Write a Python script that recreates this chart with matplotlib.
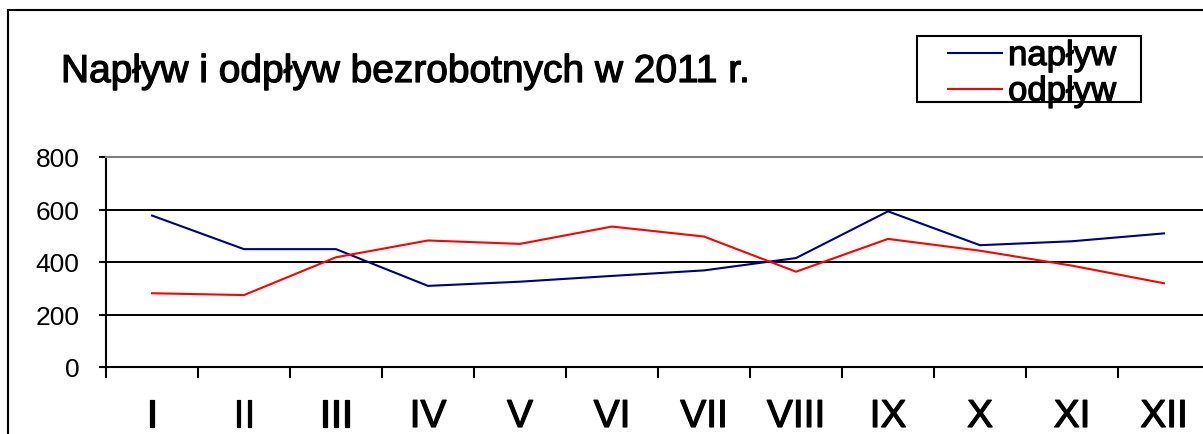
import matplotlib
matplotlib.use("Agg")
import matplotlib.pyplot as plt
import matplotlib.patheffects as pe
from matplotlib.patches import Rectangle
import numpy as np

plt.rcParams['font.family'] = ['Liberation Sans', 'DejaVu Sans']

# data
months = ["I", "II", "III", "IV", "V", "VI", "VII", "VIII", "IX", "X", "XI", "XII"]
naplyw = [577, 449, 449, 309, 325, 347, 368, 415, 593, 464, 479, 509]
odplyw = [281, 274, 418, 482, 469, 535, 497, 363, 488, 443, 386, 319]
y_ticks = [0, 200, 400, 600, 800]
title = "Napływ i odpływ bezrobotnych w 2011 r."

W, H = 1203, 435
fig = plt.figure(figsize=(W / 100, H / 100), dpi=100)
heavy = [pe.withStroke(linewidth=0.9, foreground="black")]

# outer chart border (only left/top visible, the rest is cropped)
fig.patches.append(Rectangle((8 / W, -0.1), 1.2, 1 - 11 / H + 0.1,
                             transform=fig.transFigure, fill=False,
                             edgecolor="black", linewidth=1.5))

ax = fig.add_axes([106 / W, (H - 368) / H, 1104 / W, 210 / H])
x = np.arange(len(months))
ax.plot(x, naplyw, color="#000080", linewidth=1.5, label="napływ")
ax.plot(x, odplyw, color="red", linewidth=1.5, label="odpływ")

ax.set_xlim(-0.5, len(months) - 0.5)
ax.set_ylim(0, 800)
ax.set_yticks(y_ticks)
ax.yaxis.grid(True, color="black", linewidth=1.4)

ax.set_xticks(x)
ax.set_xticklabels(months, fontsize=28)
for t in ax.get_xticklabels():
    t.set_path_effects(heavy)
ax.set_xticks(np.arange(-0.5, len(months)), minor=True)
ax.tick_params(axis="x", which="major", length=0, pad=23)
ax.tick_params(axis="x", which="minor", length=8, width=1.5, direction="out")
ax.tick_params(axis="y", length=5, width=1.5, direction="out", pad=14, labelsize=19)

ax.spines["right"].set_visible(False)
ax.spines["top"].set_color("#808080")
ax.spines["top"].set_linewidth(1.5)
ax.spines["left"].set_linewidth(1.5)
ax.spines["bottom"].set_linewidth(1.5)

fig.text(61 / W, 1 - 83 / H, title, fontsize=28, ha="left", va="baseline",
         path_effects=heavy)

# legend frame drawn separately (wider than its content, as in the reference)
fig.patches.append(Rectangle((917 / W, 1 - 103 / H), 224 / W, 66 / H,
                             transform=fig.transFigure, fill=False,
                             edgecolor="black", linewidth=1.5))
leg = fig.legend(loc="upper left", bbox_to_anchor=(948 / W, 1 - 40 / H),
                 fontsize=25, frameon=False, borderpad=0, labelspacing=0.08,
                 handlelength=1.56, handletextpad=0.17, borderaxespad=0)
for t in leg.get_texts():
    t.set_path_effects(heavy)

fig.savefig("out.png", dpi=100)
